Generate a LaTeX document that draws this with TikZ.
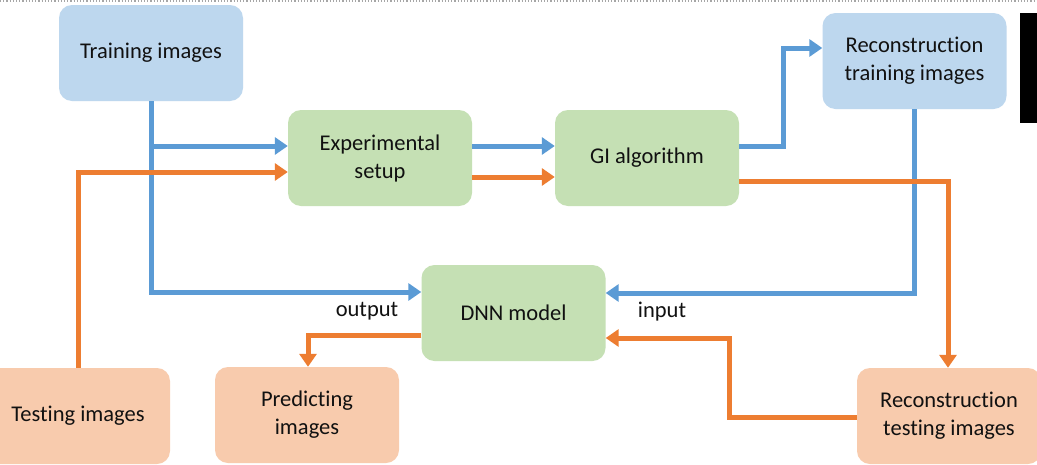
\documentclass[tikz,border=0pt]{standalone}
\usepackage{fontspec}
\setmainfont[Ligatures={NoCommon}]{Carlito}
\usetikzlibrary{arrows.meta}
\definecolor{bfill}{HTML}{BDD7EE}
\definecolor{gfill}{HTML}{C5E0B4}
\definecolor{ofill}{HTML}{F8CBAD}
\definecolor{bline}{HTML}{5B9BD5}
\definecolor{oline}{HTML}{ED7D31}
\definecolor{txt}{HTML}{111111}
\tikzset{
  box/.style={rectangle, rounded corners=13pt, minimum width=184pt, minimum height=96pt,
    align=center, text=txt, font=\fontsize{22.5}{28}\selectfont, inner sep=2pt},
  bbox/.style={box, fill=bfill},
  gbox/.style={box, fill=gfill},
  obox/.style={box, fill=ofill},
  conn/.style={line width=5pt, -{Triangle[length=13pt,width=17pt]}},
  bconn/.style={conn, draw=bline},
  oconn/.style={conn, draw=oline},
  lbl/.style={text=txt, font=\fontsize{22.5}{28}\selectfont, inner sep=0pt}
}
\begin{document}
\begin{tikzpicture}[x=1pt,y=-1pt]
\useasboundingbox (0,0) rectangle (1037,464);
\fill[white] (0,0) rectangle (1037,464);
\draw[gray!70, dotted, line width=1.2pt] (0,1) -- (1037,1);
\fill[black] (1020,13) rectangle (1037,123);

% nodes
\node[bbox] (train) at (151,53) {Training images};
\node[gbox] (exp) at (380,158) {Experimental\\setup};
\node[gbox] (gi) at (647,158) {GI algorithm};
\node[bbox] (rtrain) at (914.5,61) {Reconstruction\\training images};
\node[gbox] (dnn) at (513.5,313) {DNN model};
\node[obox] (test) at (78,416) {Testing images};
\node[obox] (pred) at (307,415) {Predicting\\images};
\node[obox] (rtest) at (949,416) {Reconstruction\\testing images};

% helper coordinates
\coordinate (tb) at (151,146);
\coordinate (tc) at (151,292);
\coordinate (gu) at (783,146);
\coordinate (gv) at (783,48);
\coordinate (go) at (948,181);
\coordinate (rc) at (914.5,293);
\coordinate (ra) at (729,417);
\coordinate (rb) at (729,338);
\coordinate (da) at (308,335);
\coordinate (ta) at (78,172);

% blue connectors
\draw[bconn] (train.south) -- (tc) -- (dnn.west |- tc);
\draw[bconn] (tb) -- (exp.west |- tb);
\draw[bconn] (exp.east |- tb) -- (gi.west |- tb);
\draw[bconn] (gi.east |- gu) -- (gu) -- (gv) -- (rtrain.west |- gv);
\draw[bconn] (rtrain.south) -- (rc) -- (dnn.east |- rc);

% orange connectors
\draw[oconn] (test.north -| ta) -- (ta) -- (exp.west |- ta);
\draw[oconn] (exp.east |- 0,177) -- (gi.west |- 0,177);
\draw[oconn] (gi.east |- go) -- (go) -- (rtest.north -| go);
\draw[oconn] (rtest.west |- ra) -- (ra) -- (rb) -- (dnn.east |- rb);
\draw[oconn] (dnn.west |- da) -- (da) -- (pred.north -| da);

% labels
\node[lbl] (out) at (367,311) {output};
\node[lbl] (in) at (662,312) {input};
\end{tikzpicture}
\end{document}
